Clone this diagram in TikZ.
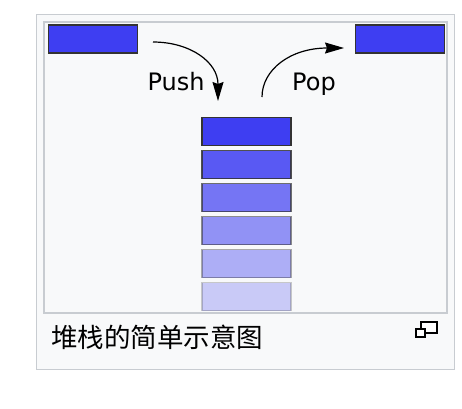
\documentclass[tikz,border=0pt]{standalone}
\usepackage{fontspec}
\setmainfont{DejaVu Sans}
\newfontfamily\cjk{Noto Sans CJK SC}
\usetikzlibrary{arrows.meta}
\definecolor{stackblue}{HTML}{3E3EF2}
\definecolor{framegray}{HTML}{C8CCD1}
\definecolor{panel}{HTML}{F8F9FA}

\begin{document}
\begin{tikzpicture}[x=1pt,y=-1pt,
    blockbox/.style={rectangle,draw=black!80,fill=stackblue,line width=1.2pt,
        minimum width=89pt,minimum height=28pt,inner sep=0pt},
    label/.style={font=\fontsize{24}{24}\selectfont,anchor=base},
    curved/.style={line width=1.2pt,-{Stealth[length=19pt,width=11pt,inset=2pt]}}]
    \useasboundingbox (0,0) rectangle (462,408);
    \draw[framegray,fill=panel,line width=1.5pt] (36.5,14.5) rectangle (454.5,369.5);
    \draw[framegray,fill=panel,line width=1.5pt] (44,22) rectangle (447,313);

    \node[blockbox] (in) at (93,39) {};
    \node[blockbox] (out) at (400,39) {};

    \node[blockbox] (s1) at (246.5,131.5) {};
    \node[blockbox,opacity=0.85] (s2) at (246.5,164.5) {};
    \node[blockbox,opacity=0.7] (s3) at (246.5,197.5) {};
    \node[blockbox,opacity=0.55] (s4) at (246.5,230.5) {};
    \node[blockbox,opacity=0.4] (s5) at (246.5,263.5) {};
    \node[blockbox,opacity=0.25] (s6) at (246.5,296.5) {};

    \coordinate (pushfrom) at (153,42);
    \coordinate (pushto) at (218,101);
    \coordinate (popfrom) at (262,97);
    \coordinate (popto) at (344,48);
    \draw[curved] (pushfrom) .. controls (190,42) and (218,62) .. (pushto);
    \draw[curved] (popfrom) .. controls (262,70) and (290,48) .. (popto);

    \node[label] (push) at (176,90) {Push};
    \node[label] (pop) at (314,90) {Pop};

    \node[anchor=west,inner sep=0pt,font=\cjk\fontsize{26.5}{26.5}\selectfont] (cap) at (51,337) {堆栈的简单示意图};

    % enlarge icon
    \draw[line width=1.3pt,fill=white] (421,322) rectangle (437,333);
    \draw[line width=1.3pt,fill=white] (416,329) rectangle (425,337);
\end{tikzpicture}
\end{document}
